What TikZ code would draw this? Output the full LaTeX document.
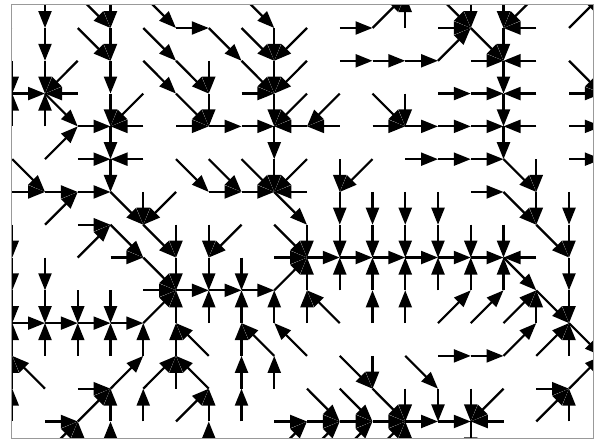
\documentclass[tikz,border=0pt]{standalone}
\usetikzlibrary{arrows.meta}
\begin{document}
\begin{tikzpicture}[x=1pt,y=-1pt,
  flow/.style={line width=2.2pt, -{Triangle[length=17pt,width=13pt]}},
  frameline/.style={draw=black!40, line width=1pt}]
\useasboundingbox (0,0) rectangle (599,439);
\foreach \i in {0,...,18}{
  \foreach \j in {0,...,14}{
    \coordinate (g\i-\j) at ({12.25+32.75*\i},{28+32.79*(\j-1)});
  }
}
\coordinate (west1) at (-20.5,28);
\begin{scope}
\clip (11,4) rectangle (593,438);
\draw[flow] (g0-1) -- (west1);
\foreach \ia/\ja/\ib/\jb in {
 0/2/0/3, 0/3/1/3, 0/4/0/3, 0/5/1/6, 0/6/1/6, 0/7/0/8, 0/8/0/9, 0/9/0/10, 0/10/1/10, 0/11/0/10, 0/12/0/11, 0/13/0/12,
 1/0/1/1, 1/1/1/2, 1/2/1/3, 1/3/2/4, 1/4/1/3, 1/5/2/4, 1/6/2/6, 1/7/2/6, 1/8/1/9, 1/9/1/10, 1/10/2/10, 1/11/1/10, 1/12/0/11, 1/13/2/13, 1/14/2/13,
 2/0/3/1, 2/1/3/2, 2/2/1/3, 2/3/1/3, 2/4/3/4, 2/5/3/5, 2/6/3/6, 2/7/3/7, 2/8/3/7, 2/9/2/10, 2/10/3/10, 2/11/2/10, 2/12/3/12, 2/13/3/12, 2/14/2/13,
 3/0/3/1, 3/1/3/2, 3/2/3/3, 3/3/3/4, 3/4/3/5, 3/5/3/6, 3/6/4/7, 3/7/4/8, 3/8/4/8, 3/9/3/10, 3/10/4/10, 3/11/3/10, 3/12/4/11, 3/13/3/12, 3/14/3/13,
 4/0/5/1, 4/1/5/2, 4/2/5/3, 4/3/3/4, 4/4/3/4, 4/5/3/5, 4/6/4/7, 4/7/5/8, 4/8/5/9, 4/9/5/9, 4/10/5/9, 4/11/4/10, 4/12/5/11, 4/13/4/12,
 5/1/6/1, 5/2/6/3, 5/3/6/4, 5/4/6/4, 5/5/6/6, 5/6/4/7, 5/7/5/8, 5/8/5/9, 5/9/6/9, 5/10/5/9, 5/11/5/10, 5/12/5/11, 5/13/6/12,
 6/1/7/2, 6/2/6/3, 6/3/6/4, 6/4/7/4, 6/5/7/6, 6/6/7/6, 6/7/6/8, 6/8/6/9, 6/9/7/9, 6/10/6/9, 6/11/5/10, 6/12/5/11, 6/13/6/12, 6/14/6/13,
 7/0/8/1, 7/1/8/2, 7/2/8/3, 7/3/8/3, 7/4/8/4, 7/5/8/6, 7/6/8/6, 7/7/6/8, 7/8/7/9, 7/9/8/9, 7/10/7/9, 7/11/7/10, 7/12/7/11, 7/13/7/12,
 8/1/8/2, 8/2/8/3, 8/3/8/4, 8/4/8/5, 8/5/8/6, 8/6/9/7, 8/7/9/8, 8/8/9/8, 8/9/9/8, 8/10/8/9, 8/11/7/10, 8/12/8/11, 8/13/9/13, 8/14/9/13,
 9/1/8/2, 9/2/8/3, 9/3/8/4, 9/4/8/4, 9/5/8/6, 9/6/8/6, 9/7/9/8, 9/8/10/8, 9/9/9/8, 9/10/9/9, 9/11/8/10, 9/12/10/13, 9/13/10/13, 9/14/10/13,
 10/1/11/1, 10/2/11/2, 10/3/9/4, 10/4/9/4, 10/5/10/6, 10/6/10/7, 10/7/10/8, 10/8/11/8, 10/9/10/8, 10/10/9/9, 10/11/11/12, 10/12/11/13, 10/13/11/13, 10/14/11/13,
 11/1/12/0, 11/2/12/2, 11/3/12/4, 11/4/12/4, 11/5/10/6, 11/6/11/7, 11/7/11/8, 11/8/12/8, 11/9/11/8, 11/10/11/9, 11/11/11/12, 11/12/12/13, 11/13/12/13, 11/14/12/13,
 12/1/12/0, 12/2/13/2, 12/3/12/4, 12/4/13/4, 12/5/13/5, 12/6/12/7, 12/7/12/8, 12/8/13/8, 12/9/12/8, 12/10/12/9, 12/11/13/12, 12/12/12/13, 12/13/13/13, 12/14/12/13,
 13/0/14/1, 13/1/14/1, 13/2/14/1, 13/3/14/3, 13/4/14/4, 13/5/14/5, 13/6/13/7, 13/7/13/8, 13/8/14/8, 13/9/13/8, 13/10/14/9, 13/11/14/11, 13/12/13/13, 13/13/14/13,
 14/0/14/1, 14/1/15/2, 14/2/15/2, 14/3/15/3, 14/4/15/4, 14/5/15/5, 14/6/15/6, 14/7/14/8, 14/8/15/8, 14/9/14/8, 14/10/15/9, 14/11/15/11, 14/12/14/13, 14/13/14/14,
 15/0/15/1, 15/1/15/2, 15/2/15/3, 15/3/15/4, 15/4/15/5, 15/5/16/6, 15/6/16/7, 15/7/15/8, 15/8/16/9, 15/9/15/8, 15/10/16/9, 15/11/16/10, 15/12/14/13, 15/13/14/13,
 16/0/15/1, 16/1/15/1, 16/2/15/2, 16/3/15/3, 16/4/15/4, 16/5/16/6, 16/6/16/7, 16/7/17/8, 16/8/15/8, 16/9/17/10, 16/10/16/9, 16/11/17/10, 16/12/17/12, 16/13/17/12,
 17/1/18/0, 17/2/18/3, 17/3/18/3, 17/4/18/4, 17/5/18/5, 17/6/17/7, 17/7/17/8, 17/8/17/9, 17/9/17/10, 17/10/18/11, 17/11/17/10, 17/12/18/11, 17/13/17/12}{
  \draw[flow] (g\ia-\ja) -- (g\ib-\jb);
}
\end{scope}
\draw[frameline] (11,4) rectangle (593,438);
\end{tikzpicture}
\end{document}
